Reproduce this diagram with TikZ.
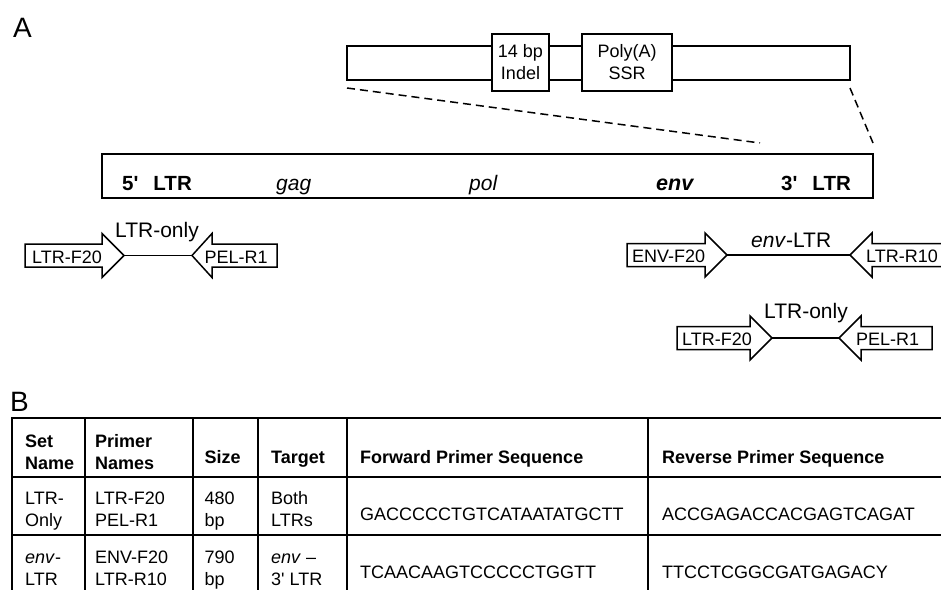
\documentclass[tikz,border=0pt]{standalone}
\usepackage{fontspec}
\setmainfont{Liberation Sans}[Ligatures=TeXOff]
\newcommand{\twol}[2]{\begin{tabular}[t]{@{}l@{}}#1\\#2\end{tabular}}
\newcommand{\fwdprimer}[4]{\draw[primer] (#1,#4-11.5) -- (#2,#4-11.5) -- (#2,#4-22) -- (#3,#4) -- (#2,#4+22) -- (#2,#4+11.5) -- (#1,#4+11.5) -- cycle;}
\newcommand{\revprimer}[4]{\draw[primer] (#1,#4) -- (#2,#4-22) -- (#2,#4-11.5) -- (#3,#4-11.5) -- (#3,#4+11.5) -- (#2,#4+11.5) -- (#2,#4+22) -- cycle;}
\begin{document}
\begin{tikzpicture}[x=1pt,y=-1pt,
  boxs/.style={draw, line width=1.8pt, inner sep=0pt},
  primer/.style={draw, line width=1.5pt, fill=white, line join=miter},
  conn/.style={draw, line width=1.5pt},
  dashl/.style={draw, line width=1.5pt, dash pattern=on 8pt off 5pt},
  tbl/.style={draw, line width=2.2pt},
  lbl/.style={inner sep=0pt, anchor=base west},
  f18/.style={font=\fontsize{18}{22}\selectfont},
  f18b/.style={font=\fontsize{18}{22}\selectfont\bfseries},
  f21/.style={font=\fontsize{21}{25}\selectfont},
  f20b/.style={font=\fontsize{20.5}{24}\selectfont\bfseries},
  f20i/.style={font=\fontsize{21}{24}\selectfont\itshape},
  big/.style={font=\fontsize{28}{32}\selectfont}
]
\useasboundingbox (0,0) rectangle (941,589);
\fill[white] (0,0) rectangle (941,589);

% panel labels
\node[lbl, big] (labA) at (13,37) {A};
\node[lbl, big] (labB) at (10,411) {B};

% zoomed LTR segment
\node[boxs, minimum width=503pt, minimum height=34pt] (seg) at (598.5,63) {};
\node[boxs, fill=white, minimum width=57pt, minimum height=57pt, align=center, f18] (indel) at (520.5,62.5) {14 bp\\Indel};
\node[boxs, fill=white, minimum width=90pt, minimum height=57pt, align=center, f18] (polya) at (627,62.5) {Poly(A)\\SSR};

% dashed zoom lines
\coordinate (d1) at (347,88);
\coordinate (d2) at (760,143);
\coordinate (d3) at (850,88);
\coordinate (d4) at (873,143);
\draw[dashl] (d1) -- (d2);
\draw[dashl] (d3) -- (d4);

% genome
\node[boxs, minimum width=771pt, minimum height=44pt] (genome) at (487.5,176) {};
\node[lbl, f20b] (ltr5) at (122,190.5) {5'\hspace{15pt}LTR};
\node[lbl, f20i] (gag) at (276,190.5) {gag};
\node[lbl, f20i] (pol) at (469,190.5) {pol};
\node[lbl, f20b, font=\fontsize{21.5}{24}\selectfont\bfseries] (env) at (656,190.5) {\itshape env};
\node[lbl, f20b] (ltr3) at (781,190.5) {3'\hspace{15pt}LTR};

% left LTR-only primer set
\fwdprimer{25}{102}{124}{255.5}
\revprimer{192}{212}{277}{255.5}
\coordinate (p1a) at (124,255.5);
\coordinate (p1b) at (192,255.5);
\draw[conn] (p1a) -- (p1b);
\node[lbl, f18] (p1f) at (32,263) {LTR-F20};
\node[lbl, f18] (p1r) at (204.5,263) {PEL-R1};
\node[lbl, f21] (p1t) at (115,237) {LTR-only};

% env-LTR primer set
\fwdprimer{627}{705}{727}{255}
\revprimer{850}{872}{960}{255}
\coordinate (p2a) at (727,255);
\coordinate (p2b) at (850,255);
\draw[conn] (p2a) -- (p2b);
\node[lbl, f18] (p2f) at (632,262) {ENV-F20};
\node[lbl, f18] (p2r) at (866,262) {LTR-R10};
\node[lbl, f21] (p2t) at (751,247) {\textit{env}-LTR};

% right LTR-only primer set
\fwdprimer{677}{750}{772}{338}
\revprimer{839}{861}{932}{338}
\coordinate (p3a) at (772,338);
\coordinate (p3b) at (839,338);
\draw[conn] (p3a) -- (p3b);
\node[lbl, f18] (p3f) at (682,345) {LTR-F20};
\node[lbl, f18] (p3r) at (856,345) {PEL-R1};
\node[lbl, f21] (p3t) at (764,318) {LTR-only};

% table grid
\draw[tbl] (12,600) -- (12,418) -- (960,418);
\draw[tbl] (12,477) -- (960,477);
\draw[tbl] (12,535) -- (960,535);
\foreach \cx in {85,193,258,347,648} \draw[tbl] (\cx,418) -- (\cx,600);

% header
\node[lbl, f18b] (h1) at (25,447) {\twol{Set}{Name}};
\node[lbl, f18b] (h2) at (95,447) {\twol{Primer}{Names}};
\node[lbl, f18b] (h3) at (204.5,463) {Size};
\node[lbl, f18b] (h4) at (271,463) {Target};
\node[lbl, f18b] (h5) at (360,463) {Forward Primer Sequence};
\node[lbl, f18b] (h6) at (662,463) {Reverse Primer Sequence};

% row 1
\node[lbl, f18] (r1a) at (25,504) {\twol{LTR-}{Only}};
\node[lbl, f18] (r1b) at (95,504) {\twol{LTR-F20}{PEL-R1}};
\node[lbl, f18] (r1c) at (204.5,504) {\twol{480}{bp}};
\node[lbl, f18] (r1d) at (271,504) {\twol{Both}{LTRs}};
\node[lbl, f18] (r1e) at (360,520) {GACCCCCTGTCATAATATGCTT};
\node[lbl, f18] (r1f) at (662,520) {ACCGAGACCACGAGTCAGAT};

% row 2
\node[lbl, f18] (r2a) at (25,563) {\twol{\textit{env}-}{LTR}};
\node[lbl, f18] (r2b) at (95,563) {\twol{ENV-F20}{LTR-R10}};
\node[lbl, f18] (r2c) at (204.5,563) {\twol{790}{bp}};
\node[lbl, f18] (r2d) at (271,563) {\twol{\textit{env} –}{3' LTR}};
\node[lbl, f18] (r2e) at (360,578) {TCAACAAGTCCCCCTGGTT};
\node[lbl, f18] (r2f) at (662,578) {TTCCTCGGCGATGAGACY};
\end{tikzpicture}
\end{document}
